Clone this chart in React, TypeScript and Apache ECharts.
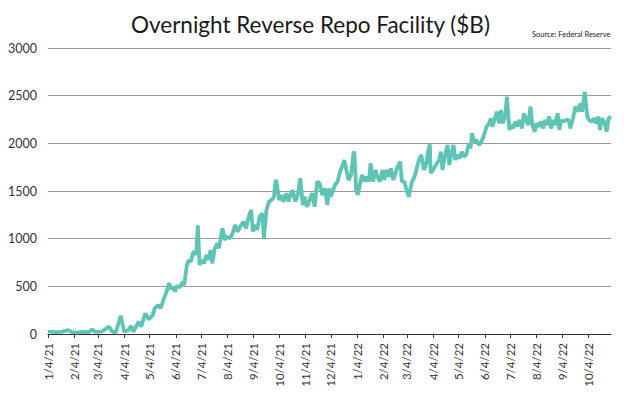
import React, { useEffect, useRef } from "react";
import * as echarts from "echarts";

const dates = [
  "2021-01-04","2021-01-12","2021-01-20","2021-01-28","2021-02-01","2021-02-08","2021-02-16","2021-02-22","2021-02-25","2021-03-01",
  "2021-03-08","2021-03-11","2021-03-17","2021-03-21","2021-03-25","2021-03-31","2021-04-04","2021-04-09","2021-04-12","2021-04-15",
  "2021-04-21","2021-04-24","2021-04-29","2021-05-03","2021-05-08","2021-05-10","2021-05-14","2021-05-17","2021-05-21","2021-05-24",
  "2021-05-27","2021-05-30","2021-06-01","2021-06-03","2021-06-05","2021-06-09","2021-06-12","2021-06-14","2021-06-17","2021-06-19",
  "2021-06-22","2021-06-24","2021-06-26","2021-06-28","2021-06-30","2021-07-02","2021-07-05","2021-07-07","2021-07-10","2021-07-13",
  "2021-07-15","2021-07-17","2021-07-20","2021-07-23","2021-07-25","2021-07-29","2021-08-01","2021-08-03","2021-08-07","2021-08-10",
  "2021-08-13","2021-08-16","2021-08-19","2021-08-23","2021-08-26","2021-08-29","2021-09-01","2021-09-03","2021-09-05","2021-09-08",
  "2021-09-11","2021-09-14","2021-09-16","2021-09-19","2021-09-22","2021-09-25","2021-09-28","2021-09-30","2021-10-01","2021-10-04",
  "2021-10-07","2021-10-09","2021-10-13","2021-10-15","2021-10-18","2021-10-20","2021-10-23","2021-10-26","2021-10-29","2021-11-01",
  "2021-11-03","2021-11-06","2021-11-09","2021-11-12","2021-11-15","2021-11-18","2021-11-21","2021-11-24","2021-11-27","2021-11-30",
  "2021-12-02","2021-12-04","2021-12-09","2021-12-12","2021-12-15","2021-12-18","2021-12-20","2021-12-22","2021-12-25","2021-12-28",
  "2021-12-31","2022-01-01","2022-01-03","2022-01-05","2022-01-08","2022-01-10","2022-01-13","2022-01-15","2022-01-18","2022-01-20",
  "2022-01-23","2022-01-26","2022-01-28","2022-01-31","2022-02-03","2022-02-05","2022-02-08","2022-02-11","2022-02-13","2022-02-16",
  "2022-02-19","2022-02-21","2022-02-24","2022-02-26","2022-03-01","2022-03-03","2022-03-06","2022-03-10","2022-03-13","2022-03-15",
  "2022-03-17","2022-03-19","2022-03-21","2022-03-24","2022-03-27","2022-03-29","2022-03-31","2022-04-01","2022-04-04","2022-04-07",
  "2022-04-11","2022-04-13","2022-04-15","2022-04-18","2022-04-21","2022-04-23","2022-04-25","2022-04-28","2022-04-30","2022-05-02",
  "2022-05-05","2022-05-08","2022-05-10","2022-05-13","2022-05-16","2022-05-18","2022-05-20","2022-05-22","2022-05-25","2022-05-28",
  "2022-05-31","2022-06-03","2022-06-06","2022-06-09","2022-06-11","2022-06-13","2022-06-16","2022-06-18","2022-06-21","2022-06-23",
  "2022-06-25","2022-06-28","2022-06-30","2022-07-03","2022-07-05","2022-07-07","2022-07-10","2022-07-12","2022-07-15","2022-07-18",
  "2022-07-20","2022-07-23","2022-07-25","2022-07-28","2022-07-30","2022-08-02","2022-08-04","2022-08-07","2022-08-09","2022-08-12",
  "2022-08-14","2022-08-16","2022-08-19","2022-08-21","2022-08-24","2022-08-26","2022-08-29","2022-08-31","2022-09-02","2022-09-05",
  "2022-09-08","2022-09-11","2022-09-13","2022-09-16","2022-09-19","2022-09-22","2022-09-25","2022-09-27","2022-09-30","2022-10-03",
  "2022-10-05","2022-10-08","2022-10-11","2022-10-13","2022-10-16","2022-10-18","2022-10-20","2022-10-23","2022-10-26","2022-10-28",
  "2022-10-31"
];

const values = [
  25,20,22,40,20,18,22,20,50,22,
  25,40,77,25,15,190,25,40,84,25,
  130,77,217,154,200,270,304,270,374,444,
  532,469,496,444,503,490,549,514,724,769,
  762,846,864,829,1140,724,776,741,829,776,
  881,741,899,951,899,1109,986,1021,1003,1056,
  1143,1073,1126,1178,1109,1231,1301,1073,1143,1091,
  1231,1266,1000,1301,1388,1406,1440,1615,1598,1406,
  1458,1388,1476,1388,1476,1510,1388,1458,1633,1353,
  1440,1335,1406,1476,1335,1598,1580,1458,1528,1353,
  1528,1440,1563,1598,1703,1773,1825,1738,1615,1668,
  1913,1895,1510,1458,1598,1668,1598,1650,1598,1790,
  1598,1720,1650,1598,1720,1615,1720,1650,1738,1615,
  1703,1755,1808,1598,1598,1528,1440,1598,1650,1720,
  1790,1843,1878,1720,1790,1913,1990,1690,1720,1773,
  1825,1913,1720,1878,1983,1773,1878,1983,1825,1878,
  1843,1913,1860,1878,2000,1948,2105,2017,2035,1983,
  2017,2087,2175,2210,2262,2175,2262,2332,2210,2350,
  2210,2280,2490,2140,2192,2157,2227,2175,2245,2157,
  2315,2245,2192,2385,2192,2122,2210,2175,2227,2157,
  2245,2192,2280,2157,2245,2192,2315,2140,2245,2227,
  2245,2245,2157,2262,2385,2332,2420,2332,2540,2280,
  2245,2227,2262,2210,2280,2140,2262,2227,2122,2262,
  2280
];

const tickDates = [
  "2021-01-04","2021-02-04","2021-03-04","2021-04-04","2021-05-04","2021-06-04",
  "2021-07-04","2021-08-04","2021-09-04","2021-10-04","2021-11-04","2021-12-04",
  "2022-01-04","2022-02-04","2022-03-04","2022-04-04","2022-05-04","2022-06-04",
  "2022-07-04","2022-08-04","2022-09-04","2022-10-04"
];

const axisStart = "2021-01-04";
const axisEnd = "2022-10-31";

function toTime(s: string): number {
  const [y, m, d] = s.split("-").map(Number);
  return Date.UTC(y, m - 1, d);
}

function fmt(v: number): string {
  const d = new Date(v);
  return `${d.getUTCMonth() + 1}/${d.getUTCDate()}/${String(d.getUTCFullYear()).slice(2)}`;
}

export default function App() {
  const ref = useRef<HTMLDivElement>(null);
  useEffect(() => {
    document.body.style.margin = "0";
    const chart = echarts.init(ref.current!, null, { renderer: "svg" });
    const ticks = tickDates.map(toTime);
    chart.setOption({
      animation: false,
      backgroundColor: "#ffffff",
      textStyle: { fontFamily: "Lato" },
      title: [
        {
          text: "Overnight Reverse Repo Facility ($B)",
          left: 126,
          top: 8,
          textStyle: { fontSize: 22.5, fontWeight: "normal", color: "#1a1a1a", fontFamily: "Lato" },
        },
        {
          text: "Source: Federal Reserve",
          left: 527,
          top: 25,
          textStyle: { fontSize: 7.5, fontWeight: "normal", color: "#1a1a1a", fontFamily: "Lato" },
        },
      ],
      grid: { left: 48, right: 15, top: 48, bottom: 59, containLabel: false },
      xAxis: {
        type: "value",
        min: toTime(axisStart),
        max: toTime(axisEnd),
        axisLine: { show: true, onZero: false, lineStyle: { color: "#333333", width: 1.2 } },
        axisTick: { show: true, customValues: ticks, length: 4, lineStyle: { color: "#333333", width: 1 } },
        axisLabel: {
          customValues: ticks,
          rotate: 90,
          formatter: (v: number) => fmt(v),
          fontSize: 11.5,
          color: "#333333",
          margin: 9,
          fontFamily: "Lato",
        },
        splitLine: { show: false },
      },
      yAxis: {
        type: "value",
        min: 0,
        max: 3000,
        interval: 500,
        axisLine: { show: false },
        axisTick: { show: false },
        axisLabel: {
          fontSize: 12.5,
          color: "#333333",
          margin: 11,
          fontFamily: "Lato",
          formatter: (v: number) => String(v),
        },
        splitLine: { show: true, lineStyle: { color: "#9a9a9a", width: 1.2 } },
      },
      series: [
        {
          type: "line",
          data: dates.map((d, i) => [toTime(d), values[i]]),
          symbol: "none",
          showSymbol: false,
          lineStyle: { color: "#5ec4b4", width: 3.8 },
        },
      ],
    });
    return () => chart.dispose();
  }, []);
  return <div ref={ref} style={{ width: 626, height: 393 }} />;
}
